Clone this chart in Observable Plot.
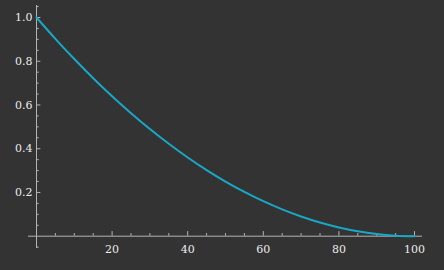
<!DOCTYPE html>
<html>
<head>
<meta charset="utf-8">
<script src="https://cdn.jsdelivr.net/npm/d3@7"></script>
<script src="https://cdn.jsdelivr.net/npm/@observablehq/plot@0.6"></script>
<style>
  html, body { margin: 0; padding: 0; background: #333333; }
  #chart { width: 444px; height: 270px; }
</style>
</head>
<body>
<div id="chart"></div>
<script>
// Data
const xs = [0, 5, 10, 15, 20, 25, 30, 35, 40, 45, 50, 55, 60, 65, 70, 75, 80, 85, 90, 95, 100];
const ys = [1.0, 0.9025, 0.81, 0.7225, 0.64, 0.5625, 0.49, 0.4225, 0.36, 0.3025, 0.25, 0.2025, 0.16, 0.1225, 0.09, 0.0625, 0.04, 0.0225, 0.01, 0.0025, 0.0];

const xMajorTicks = [20, 40, 60, 80, 100];
const xTickLabels = ["20", "40", "60", "80", "100"];
const xMinorTicks = [5, 10, 15, 25, 30, 35, 45, 50, 55, 65, 70, 75, 85, 90, 95];
const yMajorTicks = [0.2, 0.4, 0.6, 0.8, 1.0];
const yTickLabels = ["0.2", "0.4", "0.6", "0.8", "1.0"];
const yMinorTicks = [-0.05, 0.05, 0.1, 0.15, 0.25, 0.3, 0.35, 0.45, 0.5, 0.55, 0.65, 0.7, 0.75, 0.85, 0.9, 0.95, 1.05];

const data = xs.map((x, i) => ({x, y: ys[i]}));
const xLab = xMajorTicks.map((v, i) => ({v, t: xTickLabels[i]}));
const yLab = yMajorTicks.map((v, i) => ({v, t: yTickLabels[i]}));

const axisColor = "#b4b4b4";
const textColor = "#ececec";
const lineColor = "#19a7c6";
const font = "DejaVu Serif";

const chart = Plot.plot({
  width: 444,
  height: 270,
  margin: 0,
  style: {background: "#333333", fontFamily: font, fontSize: "11px", color: textColor},
  x: {domain: [0, 100], range: [36, 414], axis: null},
  y: {domain: [0, 1], range: [235.7, 17], axis: null},
  marks: [
    Plot.ruleY([0], {x1: -2.1, x2: 102.1, stroke: axisColor, strokeWidth: 1}),
    Plot.ruleX([0], {y1: -0.056, y2: 1.055, stroke: axisColor, strokeWidth: 1}),
    Plot.ruleX(xMinorTicks, {x: d => d, y1: 0, y2: 0.012, stroke: axisColor}),
    Plot.ruleX(xMajorTicks, {x: d => d, y1: 0, y2: 0.021, stroke: axisColor}),
    Plot.ruleY(yMinorTicks, {y: d => d, x1: 0, x2: 0.7, stroke: axisColor}),
    Plot.ruleY(yMajorTicks, {y: d => d, x1: 0, x2: 1.15, stroke: axisColor}),
    Plot.text(xLab, {x: "v", y: 0, text: "t", dy: 13, fill: textColor, textAnchor: "middle", fontSize: 11, fontFamily: font}),
    Plot.text(yLab, {x: 0, y: "v", text: "t", dx: -4, fill: textColor, textAnchor: "end", fontSize: 11, fontFamily: font}),
    Plot.line(data, {x: "x", y: "y", stroke: lineColor, strokeWidth: 2, curve: "catmull-rom"})
  ]
});
document.getElementById("chart").appendChild(chart);
</script>
</body>
</html>
